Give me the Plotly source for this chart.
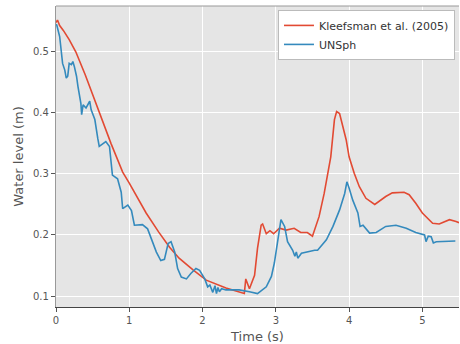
import plotly.graph_objects as go

# Kleefsman et al. (2005) experimental data
kl_t = [0, 0.02, 0.05, 0.1, 0.18, 0.27, 0.4, 0.59, 0.75, 0.91, 1.0, 1.23, 1.4, 1.55, 1.68,
        1.87, 2.05, 2.32, 2.57, 2.59, 2.64, 2.71, 2.75, 2.80, 2.82, 2.87, 2.92, 2.97, 3.05,
        3.14, 3.25, 3.34, 3.43, 3.50, 3.59, 3.66, 3.72, 3.75, 3.80, 3.83, 3.87, 3.91, 3.96,
        4.00, 4.07, 4.14, 4.23, 4.35, 4.41, 4.50, 4.59, 4.75, 4.82, 4.91, 5.00, 5.14, 5.23,
        5.37, 5.46, 5.5]
kl_h = [0.548, 0.552, 0.543, 0.535, 0.52, 0.50, 0.462, 0.40, 0.35, 0.303, 0.285, 0.236, 0.205,
        0.180, 0.162, 0.143, 0.126, 0.113, 0.104, 0.128, 0.112, 0.134, 0.178, 0.216, 0.218,
        0.202, 0.207, 0.202, 0.211, 0.208, 0.211, 0.204, 0.204, 0.198, 0.230, 0.268, 0.307,
        0.328, 0.389, 0.402, 0.399, 0.378, 0.356, 0.328, 0.301, 0.279, 0.260, 0.250, 0.255,
        0.263, 0.269, 0.270, 0.266, 0.252, 0.236, 0.219, 0.218, 0.225, 0.222, 0.220]

# UNSph simulation
sph_t = [0, 0.01, 0.05, 0.07, 0.09, 0.12, 0.14, 0.16, 0.18, 0.21, 0.23, 0.25, 0.28, 0.30, 0.32,
         0.34, 0.35, 0.37, 0.41, 0.46, 0.48, 0.53, 0.57, 0.59, 0.68, 0.73, 0.77, 0.84, 0.89,
         0.91, 0.98, 1.03, 1.07, 1.14, 1.18, 1.25, 1.30, 1.37, 1.43, 1.48, 1.53, 1.57, 1.62,
         1.66, 1.71, 1.78, 1.84, 1.91, 1.96, 2.03, 2.07, 2.10, 2.14, 2.17, 2.19, 2.21, 2.23,
         2.26, 2.32, 2.50, 2.64, 2.75, 2.87, 2.94, 2.98, 3.03, 3.07, 3.12, 3.16, 3.23, 3.26,
         3.28, 3.30, 3.35, 3.44, 3.53, 3.57, 3.69, 3.78, 3.87, 3.94, 3.97, 4.00, 4.05, 4.12,
         4.15, 4.19, 4.28, 4.37, 4.50, 4.64, 4.78, 4.91, 5.03, 5.05, 5.08, 5.12, 5.15, 5.19,
         5.32, 5.41, 5.45]
sph_h = [0.545, 0.544, 0.525, 0.503, 0.481, 0.47, 0.457, 0.46, 0.481, 0.479, 0.484, 0.476, 0.460,
         0.443, 0.427, 0.415, 0.397, 0.413, 0.408, 0.419, 0.405, 0.389, 0.358, 0.345, 0.353,
         0.345, 0.298, 0.292, 0.270, 0.243, 0.249, 0.240, 0.216, 0.216, 0.217, 0.210, 0.194,
         0.172, 0.158, 0.160, 0.186, 0.189, 0.172, 0.145, 0.131, 0.128, 0.137, 0.145, 0.142,
         0.128, 0.115, 0.118, 0.106, 0.117, 0.104, 0.114, 0.107, 0.112, 0.110, 0.110, 0.107,
         0.104, 0.115, 0.132, 0.154, 0.197, 0.225, 0.214, 0.189, 0.175, 0.165, 0.172, 0.162,
         0.170, 0.173, 0.175, 0.175, 0.192, 0.214, 0.241, 0.268, 0.287, 0.277, 0.257, 0.236,
         0.214, 0.216, 0.203, 0.204, 0.214, 0.216, 0.211, 0.204, 0.200, 0.189, 0.198, 0.197,
         0.187, 0.189, 0.189, 0.189, 0.190]

x_ticks = [0, 1, 2, 3, 4, 5]
y_ticks = [0.1, 0.2, 0.3, 0.4, 0.5]

fig = go.Figure()
fig.add_trace(go.Scatter(x=kl_t, y=kl_h, mode="lines", name="Kleefsman et al. (2005)",
                         line=dict(color="#E24A33", width=1.6)))
fig.add_trace(go.Scatter(x=sph_t, y=sph_h, mode="lines", name="UNSph",
                         line=dict(color="#348ABD", width=1.6)))

font = "DejaVu Sans"
fig.update_layout(
    width=460, height=344,
    margin=dict(l=56, r=1, t=6, b=37),
    paper_bgcolor="white",
    plot_bgcolor="#E5E5E5",
    font=dict(family=font, size=10, color="#555555"),
    showlegend=True,
    legend=dict(x=0.99, y=0.987, xanchor="right", yanchor="top",
                bgcolor="white", bordercolor="#BBBBBB", borderwidth=1,
                font=dict(family=font, size=11, color="#333333"),
                tracegroupgap=0, itemwidth=30),
)
fig.update_xaxes(
    range=[0, 5.5], tickvals=x_ticks, ticktext=[str(v) for v in x_ticks],
    showgrid=True, gridcolor="white", gridwidth=1, zeroline=False,
    showline=True, linecolor="#444444", linewidth=1.2,
    ticks="outside", ticklen=4, tickcolor="#555555",
    title=dict(text="Time (s)", font=dict(family=font, size=13, color="#555555"), standoff=7),
)
fig.update_yaxes(
    range=[0.082, 0.575], tickvals=y_ticks, ticktext=[f"{v:.1f}" for v in y_ticks],
    showgrid=True, gridcolor="white", gridwidth=1, zeroline=False,
    showline=True, linecolor="#999999", linewidth=1.2,
    ticks="outside", ticklen=4, tickcolor="#555555",
    title=dict(text="Water level (m)", font=dict(family=font, size=13, color="#555555"), standoff=6),
)
fig.add_shape(type="line", xref="paper", yref="paper", x0=0, x1=1, y0=1, y1=1,
              line=dict(color="#999999", width=1.2))

fig.write_html("out.html", config={"displayModeBar": False},
               post_script="document.body.style.margin='0';document.body.style.overflow='hidden';")
